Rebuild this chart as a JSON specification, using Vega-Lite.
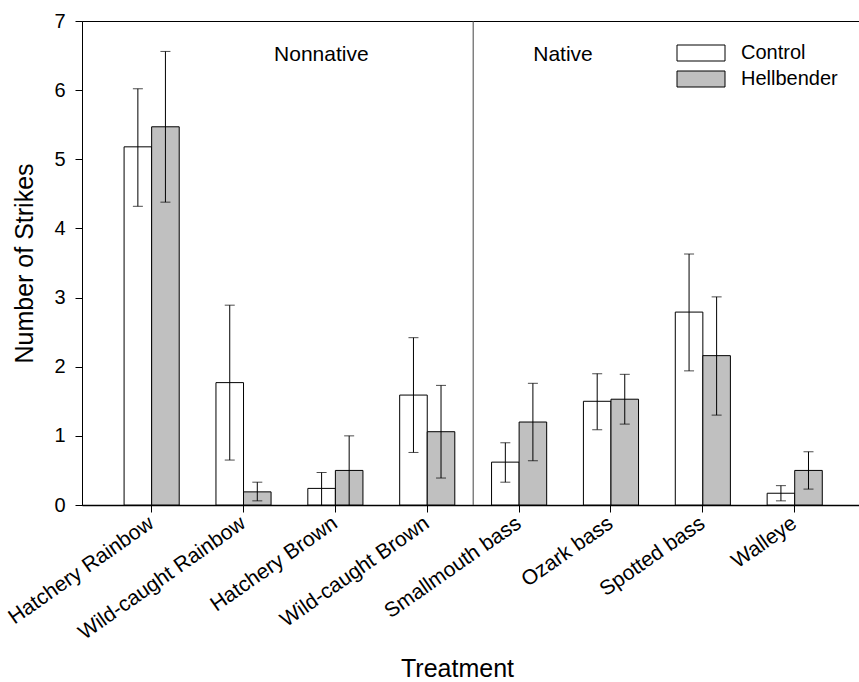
{
  "$schema": "https://vega.github.io/schema/vega-lite/v6.json",
  "autosize": "none",
  "padding": {"left": 82, "top": 21, "right": 0, "bottom": 177},
  "width": 777,
  "height": 484,
  "background": "white",
  "config": {
    "font": "Liberation Sans",
    "view": {"stroke": "black", "strokeWidth": 1},
    "axis": {"grid": false, "domainColor": "black", "tickColor": "black", "labelColor": "black", "titleColor": "black", "labelFont": "Liberation Sans", "titleFont": "Liberation Sans", "titleFontWeight": "normal"}
  },
  "data": {
    "values": [
      {"treatment": "Hatchery Rainbow", "group": "Control", "mean": 5.18, "lo": 4.32, "hi": 6.02},
      {"treatment": "Hatchery Rainbow", "group": "Hellbender", "mean": 5.47, "lo": 4.38, "hi": 6.56},
      {"treatment": "Wild-caught Rainbow", "group": "Control", "mean": 1.77, "lo": 0.65, "hi": 2.89},
      {"treatment": "Wild-caught Rainbow", "group": "Hellbender", "mean": 0.19, "lo": 0.06, "hi": 0.33},
      {"treatment": "Hatchery Brown", "group": "Control", "mean": 0.24, "lo": 0.0, "hi": 0.47},
      {"treatment": "Hatchery Brown", "group": "Hellbender", "mean": 0.5, "lo": 0.0, "hi": 1.0},
      {"treatment": "Wild-caught Brown", "group": "Control", "mean": 1.59, "lo": 0.76, "hi": 2.42},
      {"treatment": "Wild-caught Brown", "group": "Hellbender", "mean": 1.06, "lo": 0.39, "hi": 1.73},
      {"treatment": "Smallmouth bass", "group": "Control", "mean": 0.62, "lo": 0.33, "hi": 0.9},
      {"treatment": "Smallmouth bass", "group": "Hellbender", "mean": 1.2, "lo": 0.64, "hi": 1.76},
      {"treatment": "Ozark bass", "group": "Control", "mean": 1.5, "lo": 1.09, "hi": 1.9},
      {"treatment": "Ozark bass", "group": "Hellbender", "mean": 1.53, "lo": 1.17, "hi": 1.89},
      {"treatment": "Spotted bass", "group": "Control", "mean": 2.79, "lo": 1.94, "hi": 3.63},
      {"treatment": "Spotted bass", "group": "Hellbender", "mean": 2.16, "lo": 1.3, "hi": 3.01},
      {"treatment": "Walleye", "group": "Control", "mean": 0.17, "lo": 0.06, "hi": 0.28},
      {"treatment": "Walleye", "group": "Hellbender", "mean": 0.5, "lo": 0.23, "hi": 0.77}
    ]
  },
  "encoding": {
    "x": {
      "field": "treatment", "type": "nominal", "sort": null,
      "scale": {"paddingInner": 0.4, "paddingOuter": 0.429, "align": 0.534},
      "axis": {"title": "Treatment", "titleFontSize": 25, "titleBaseline": "alphabetic", "titleY": 171, "titleX": 375, "labelFontSize": 21, "labelAngle": -35, "labelAlign": "right", "labelBaseline": "middle", "labelPadding": 9, "labelLimit": 0, "tickSize": 7, "domainWidth": 1.5}
    }
  },
  "layer": [
    {
      "mark": {"type": "bar", "stroke": "black", "strokeWidth": 1},
      "encoding": {
        "xOffset": {"field": "group", "type": "nominal", "scale": {"paddingInner": 0, "paddingOuter": 0}},
        "y": {"field": "mean", "type": "quantitative", "scale": {"domain": [0, 7], "nice": false},
          "axis": {"title": "Number of Strikes", "titleFontSize": 25, "titlePadding": 16, "labelFontSize": 20, "format": "d", "values": [0,1,2,3,4,5,6,7], "tickSize": 7, "labelPadding": 10}},
        "fill": {"field": "group", "type": "nominal", "scale": {"domain": ["Control", "Hellbender"], "range": ["white", "#c0c0c0"]},
          "legend": {"title": null, "orient": "none", "legendX": 609, "legendY": 22, "symbolType": "M-3,-1H3V1H-3Z", "symbolSize": 256, "symbolStrokeColor": "black", "symbolStrokeWidth": 1, "labelFontSize": 20, "labelFont": "Liberation Sans", "labelColor": "black", "labelOffset": 30, "rowPadding": 6}}
      }
    },
    {
      "mark": {"type": "rule", "color": "black", "strokeWidth": 1},
      "encoding": {
        "xOffset": {"field": "group", "type": "nominal"},
        "y": {"field": "lo", "type": "quantitative"},
        "y2": {"field": "hi"}
      }
    },
    {
      "mark": {"type": "tick", "color": "black", "size": 10, "thickness": 1},
      "encoding": {
        "xOffset": {"field": "group", "type": "nominal"},
        "y": {"field": "hi", "type": "quantitative"}
      }
    },
    {
      "mark": {"type": "tick", "color": "black", "size": 10, "thickness": 1},
      "transform": [{"filter": "datum.lo > 0"}],
      "encoding": {
        "xOffset": {"field": "group", "type": "nominal"},
        "y": {"field": "lo", "type": "quantitative"}
      }
    },
    {
      "data": {"values": [{"treatment": "Smallmouth bass"}]},
      "mark": {"type": "rule", "color": "#444444", "strokeWidth": 1},
      "encoding": {
        "x": {"field": "treatment", "type": "nominal", "sort": null, "bandPosition": -0.3333}
      }
    },
    {
      "data": {"values": [{"treatment": "Hatchery Brown", "label": "Nonnative", "yv": 6.51}]},
      "mark": {"type": "text", "fontSize": 21, "font": "Liberation Sans", "color": "black", "baseline": "middle"},
      "encoding": {
        "x": {"field": "treatment", "type": "nominal", "sort": null, "bandPosition": 0.245},
        "y": {"field": "yv", "type": "quantitative"},
        "text": {"field": "label"}
      }
    },
    {
      "data": {"values": [{"treatment": "Ozark bass", "label": "Native", "yv": 6.51}]},
      "mark": {"type": "text", "fontSize": 21, "font": "Liberation Sans", "color": "black", "baseline": "middle"},
      "encoding": {
        "x": {"field": "treatment", "type": "nominal", "sort": null, "bandPosition": -0.37},
        "y": {"field": "yv", "type": "quantitative"},
        "text": {"field": "label"}
      }
    }
  ]
}
